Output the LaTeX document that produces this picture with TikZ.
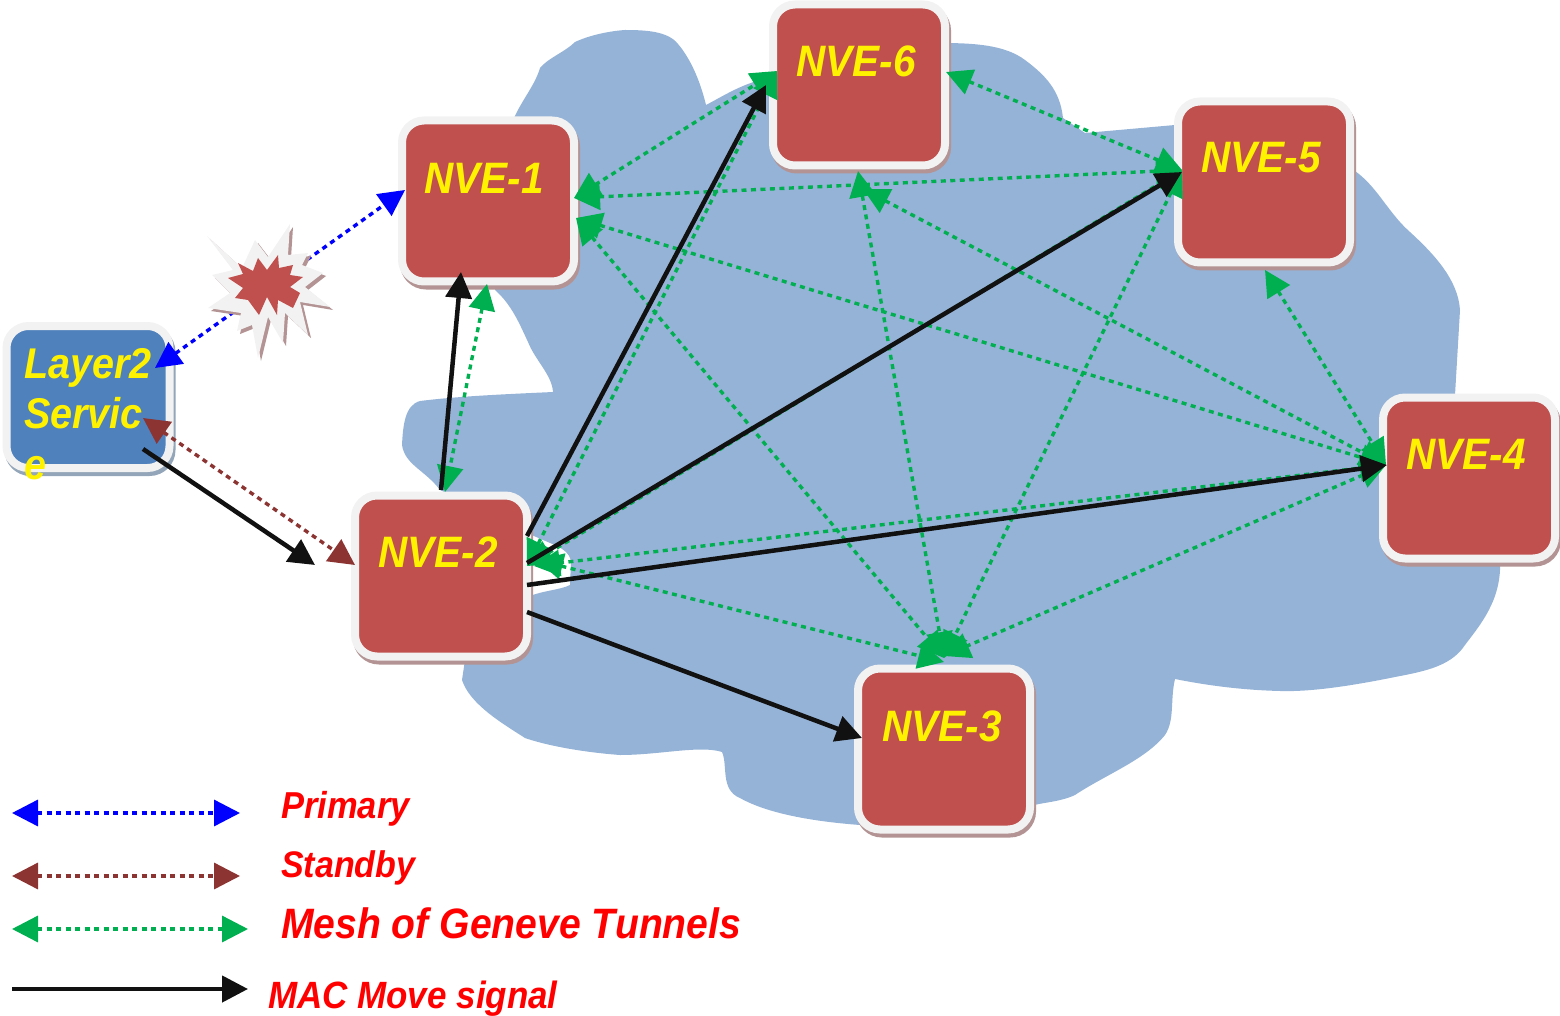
\documentclass[tikz,border=0pt]{standalone}
\usepackage{fontspec}
\setmainfont{Liberation Sans}[BoldItalicFeatures={FakeStretch=0.92}]
\usetikzlibrary{arrows.meta}
\definecolor{cloudc}{HTML}{95B3D7}
\definecolor{redbox}{HTML}{C0504D}
\definecolor{bluebox}{HTML}{4F81BD}
\definecolor{rim}{HTML}{F2F2F2}
\definecolor{redshade}{HTML}{B39393}
\definecolor{blueshade}{HTML}{93A5B8}
\definecolor{meshc}{HTML}{00B050}
\definecolor{standbyc}{HTML}{8C3432}
\definecolor{movec}{HTML}{111111}
\tikzset{
  x=1pt,y=-1pt,
  boxbase/.style={rectangle,rounded corners=22pt,line width=8pt,draw=rim,inner sep=0pt,minimum width=172pt},
  nve/.style={boxbase,fill=redbox,minimum height=161pt,
    preaction={draw=redshade,fill=redshade,transform canvas={xshift=2pt,yshift=-4pt}}},
  svc/.style={boxbase,fill=bluebox,minimum width=163pt,minimum height=142pt,
    preaction={draw=blueshade,fill=blueshade,transform canvas={xshift=2pt,yshift=-4pt}}},
  nvetext/.style={text=yellow,inner sep=0pt,font=\fontsize{44}{50}\selectfont\bfseries\itshape},
  legtext/.style={text=red,inner sep=0pt,anchor=west,font=\bfseries\itshape},
  tip/.style={-{Triangle[length=26pt,width=26pt]}},
  dtip/.style={{Triangle[length=26pt,width=26pt]}-{Triangle[length=26pt,width=26pt]}},
  dot/.style={dtip,line width=3.4pt,dash pattern=on 5pt off 4.5pt},
  primary/.style={dot,color=blue},
  standby/.style={dot,color=standbyc},
  mesh/.style={dot,color=meshc},
  move/.style={tip,line width=4.5pt,color=movec},
}
\begin{document}
\begin{tikzpicture}
\useasboundingbox (0,0) rectangle (1560,1016);
% cloud
\fill[cloudc] (575,42) .. controls (590,35) and (610,31) .. (625,30)
  .. controls (645,30) and (668,31) .. (678,44) .. controls (690,58) and (700,80) .. (706,105)
  .. controls (725,95) and (745,82) .. (770,78) -- (940,43) .. controls (975,43) and (1005,45) .. (1025,60)
  .. controls (1045,75) and (1060,90) .. (1063,118) -- (1085,133) -- (1175,125) -- (1345,165)
  .. controls (1375,180) and (1385,210) .. (1410,232) .. controls (1435,255) and (1458,280) .. (1460,310)
  -- (1455,395) -- (1500,560) .. controls (1502,600) and (1480,625) .. (1465,645)
  .. controls (1450,668) and (1420,672) .. (1390,678) .. controls (1350,686) and (1310,692) .. (1280,691)
  .. controls (1240,690) and (1205,685) .. (1175,679) .. controls (1170,700) and (1175,720) .. (1165,735)
  .. controls (1145,760) and (1105,775) .. (1075,795) .. controls (1060,802) and (1045,802) .. (1030,806)
  -- (860,825) .. controls (820,822) and (770,815) .. (740,798) .. controls (720,790) and (728,765) .. (722,752)
  .. controls (700,745) and (660,755) .. (620,755) .. controls (580,752) and (545,745) .. (525,738)
  .. controls (505,725) and (470,705) .. (462,680) -- (465,660) -- (527,612)
  -- (527,597) .. controls (545,590) and (560,590) .. (570,585) -- (571,562) .. controls (570,552) and (560,547) .. (550,543)
  -- (527,533) -- (440,490) .. controls (425,470) and (405,465) .. (402,445)
  .. controls (403,425) and (405,405) .. (420,401) .. controls (460,396) and (510,394) .. (553,392)
  .. controls (552,375) and (535,360) .. (528,342) .. controls (520,325) and (512,305) .. (495,290)
  -- (514,118) .. controls (522,100) and (535,85) .. (540,68) .. controls (548,58) and (565,52) .. (575,42) -- cycle;
% boxes
\node[svc] (svc) at (88,397) {};
\node[nve] (n1) at (488,201) {};
\node[nve] (n2) at (441,576) {};
\node[nve] (n3) at (944,749) {};
\node[nve] (n4) at (1469,478) {};
\node[nve] (n5) at (1264,182) {};
\node[nve] (n6) at (859,85) {};
% box labels
\node[nvetext] (t1) at (484,178) {NVE-1};
\node[nvetext] (t2) at (438,552) {NVE-2};
\node[nvetext] (t3) at (942,726) {NVE-3};
\node[nvetext] (t4) at (1466,454) {NVE-4};
\node[nvetext] (t5) at (1261,158) {NVE-5};
\node[nvetext] (t6) at (856,61) {NVE-6};
\node[text=yellow,inner sep=0pt,anchor=north west,align=left,font=\fontsize{43}{50.5}\selectfont\bfseries\itshape] (ts) at (24,348) {Layer2\\Servic\\e};
% ports
\coordinate (s1) at (155,368);   \coordinate (a1) at (405,190);
\coordinate (s2) at (143,418);   \coordinate (b2) at (355,565);
\coordinate (s3) at (143,449);   \coordinate (c2) at (315,565);
\coordinate (p1a) at (574,198);  \coordinate (p1b) at (576,218); \coordinate (p1c) at (487,284);
\coordinate (p2a) at (527,566);  \coordinate (p2c) at (537,560); \coordinate (p2d) at (534,566); \coordinate (p2b) at (445,492);
\coordinate (p3a) at (944,658);  \coordinate (p3b) at (944,662); \coordinate (p3c) at (944,656);
\coordinate (p4a) at (1386,465);
\coordinate (p5a) at (1182,170); \coordinate (p5b) at (1265,270);
\coordinate (p6a) at (777,71);   \coordinate (p6b) at (946,72);  \coordinate (p6c) at (858,171); \coordinate (p6d) at (863,189);
% primary path (passes under the burst)
\draw[primary] (s1) -- (a1);
% burst
\def\burstpath{(207,236) -- (242,268) -- (255,240) -- (268,257) -- (290,224) -- (288,255) -- (308,253) -- (302,265) -- (323,273) -- (305,287) -- (330,307) -- (300,302) -- (308,335) -- (285,313) -- (283,343) -- (268,317) -- (258,358) -- (252,325) -- (237,331) -- (241,313) -- (208,308) -- (230,293) -- (212,275) -- (233,270) -- cycle}
\fill[redshade,xshift=3pt,yshift=-3pt] \burstpath;
\fill[rim] \burstpath;
\fill[redbox] (228,278) -- (243,274) -- (238,263) -- (253,271) -- (258,258) -- (267,270) -- (278,255) -- (279,268) -- (293,265) -- (290,275) -- (303,277) -- (290,287) -- (300,293) -- (293,308) -- (278,300) -- (277,315) -- (267,297) -- (259,315) -- (248,300) -- (235,298) -- (243,288) -- cycle;
\draw[standby] (s2) -- (b2);
% mesh of tunnels
\draw[mesh] (p1a) -- (p6a);
\draw[mesh] (p1a) -- (p5a);
\draw[mesh] (p1b) -- (p4a);
\draw[mesh] (p1b) -- (p3a);
\draw[mesh] (p1c) -- (p2b);
\draw[mesh] (p2a) -- (p6a);
\draw[mesh] (p2a) -- (p5a);
\draw[mesh] (p2d) -- (p4a);
\draw[mesh] (p2c) -- (p3b);
\draw[mesh] (p6b) -- (p5a);
\draw[mesh] (p6c) -- (p3a);
\draw[mesh] (p6d) -- (p4a);
\draw[mesh] (p5a) -- (p3a);
\draw[mesh] (p5b) -- (p4a);
\draw[mesh] (p4a) -- (p3c);
% MAC move
\draw[move] (s3) -- (c2);
\coordinate (m2a) at (441,490); \coordinate (m1) at (461,272);
\coordinate (m2b) at (527,536); \coordinate (m6) at (766,85);
\coordinate (m2c) at (527,563); \coordinate (m5) at (1182,172);
\coordinate (m2d) at (527,585); \coordinate (m4) at (1387,465);
\coordinate (m2e) at (527,612); \coordinate (m3) at (862,738);
\draw[move] (m2a) -- (m1);
\draw[move] (m2b) -- (m6);
\draw[move] (m2c) -- (m5);
\draw[move] (m2d) -- (m4);
\draw[move] (m2e) -- (m3);
% legend
\coordinate (la1) at (12,813);  \coordinate (la2) at (240,813);
\coordinate (lb1) at (12,876);  \coordinate (lb2) at (240,876);
\coordinate (lc1) at (12,929);  \coordinate (lc2) at (248,929);
\coordinate (ld1) at (12,989);  \coordinate (ld2) at (248,989);
\draw[primary] (la1) -- (la2);
\draw[standby] (lb1) -- (lb2);
\draw[mesh] (lc1) -- (lc2);
\draw[move] (ld1) -- (ld2);
\node[legtext,font=\fontsize{37.5}{40}\selectfont\bfseries\itshape] (l1) at (281,809) {Primary};
\node[legtext,font=\fontsize{37}{40}\selectfont\bfseries\itshape] (l2) at (281,868) {Standby};
\node[legtext,font=\fontsize{42.5}{44}\selectfont\bfseries\itshape] (l3) at (281,923) {Mesh of Geneve Tunnels};
\node[legtext,font=\fontsize{38}{40}\selectfont\bfseries\itshape] (l4) at (268,999) {MAC Move signal};
\end{tikzpicture}
\end{document}
